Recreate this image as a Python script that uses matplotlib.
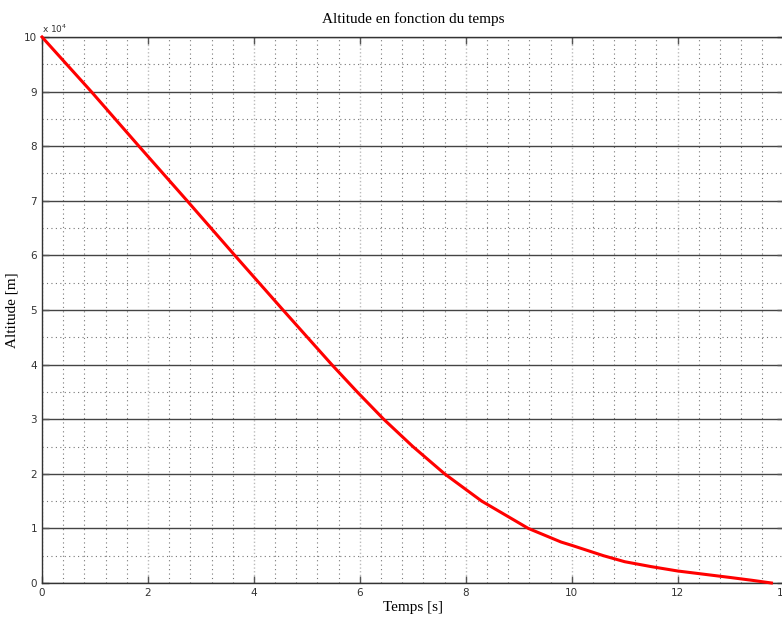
import matplotlib
matplotlib.use("Agg")
import matplotlib.pyplot as plt
from matplotlib.ticker import MultipleLocator, FuncFormatter

# temps [s] et altitude [m]
temps = [0, 0.93, 1.83, 2.74, 3.64, 4.55, 5.47, 5.95, 6.45, 7.00, 7.60,
         8.30, 9.18, 9.80, 10.0, 10.6, 11.0, 11.5, 12.0, 12.5, 13.0, 13.4,
         13.77]
altitude = [100000, 90000, 80000, 70000, 60000, 50000, 40000, 35000, 30000,
            25000, 20000, 15000, 10000, 7500, 6900, 5000, 3900, 3000, 2200,
            1600, 1000, 500, 0]

x_ticks = [0, 2, 4, 6, 8, 10, 12, 14]
y_ticks = [0, 1, 2, 3, 4, 5, 6, 7, 8, 9, 10]

fig = plt.figure(figsize=(7.82, 6.17), dpi=100)
ax = fig.add_axes([42 / 782, 34 / 617, 741.6 / 782, 546 / 617])

ax.plot(temps, altitude, color="red", linewidth=2.2, zorder=5, clip_on=False)

ax.set_xlim(0, 14)
ax.set_ylim(0, 100000)
ax.set_xticks(x_ticks)
ax.set_yticks([v * 1e4 for v in y_ticks])
ax.yaxis.set_major_formatter(FuncFormatter(lambda v, p: "%g" % (v / 1e4)))
ax.xaxis.set_minor_locator(MultipleLocator(0.4))
ax.yaxis.set_minor_locator(MultipleLocator(5000))

# grille facon MATLAB
ax.grid(axis="y", which="major", color="#444444", linestyle="-", linewidth=1.0)
ax.grid(axis="x", which="major", color="#bbbbbb", linestyle=":", linewidth=1.0)
ax.grid(which="minor", color="#777777", linestyle=(0, (1, 3)), linewidth=0.8)
ax.set_axisbelow(True)

ax.tick_params(which="major", direction="in", length=5, width=1, top=True,
               right=True, labelsize=7.5, labelcolor="#333333", color="#555555")
ax.tick_params(which="minor", length=0)
for s in ax.spines.values():
    s.set_color("#333333")
    s.set_linewidth(1.0)

ax.text(0.0, 1.004, r"x 10$^4$", transform=ax.transAxes, fontsize=6.5,
        color="#333333", ha="left", va="bottom")

serif = "Liberation Serif"
ax.set_title("Altitude en fonction du temps", fontsize=11, family=serif, pad=10)
ax.set_xlabel("Temps [s]", fontsize=11, family=serif, labelpad=2)
ax.set_ylabel("Altitude [m]", fontsize=11, family=serif)
ax.yaxis.set_label_coords(-0.032, 0.5)

fig.savefig("out.png", dpi=100)
